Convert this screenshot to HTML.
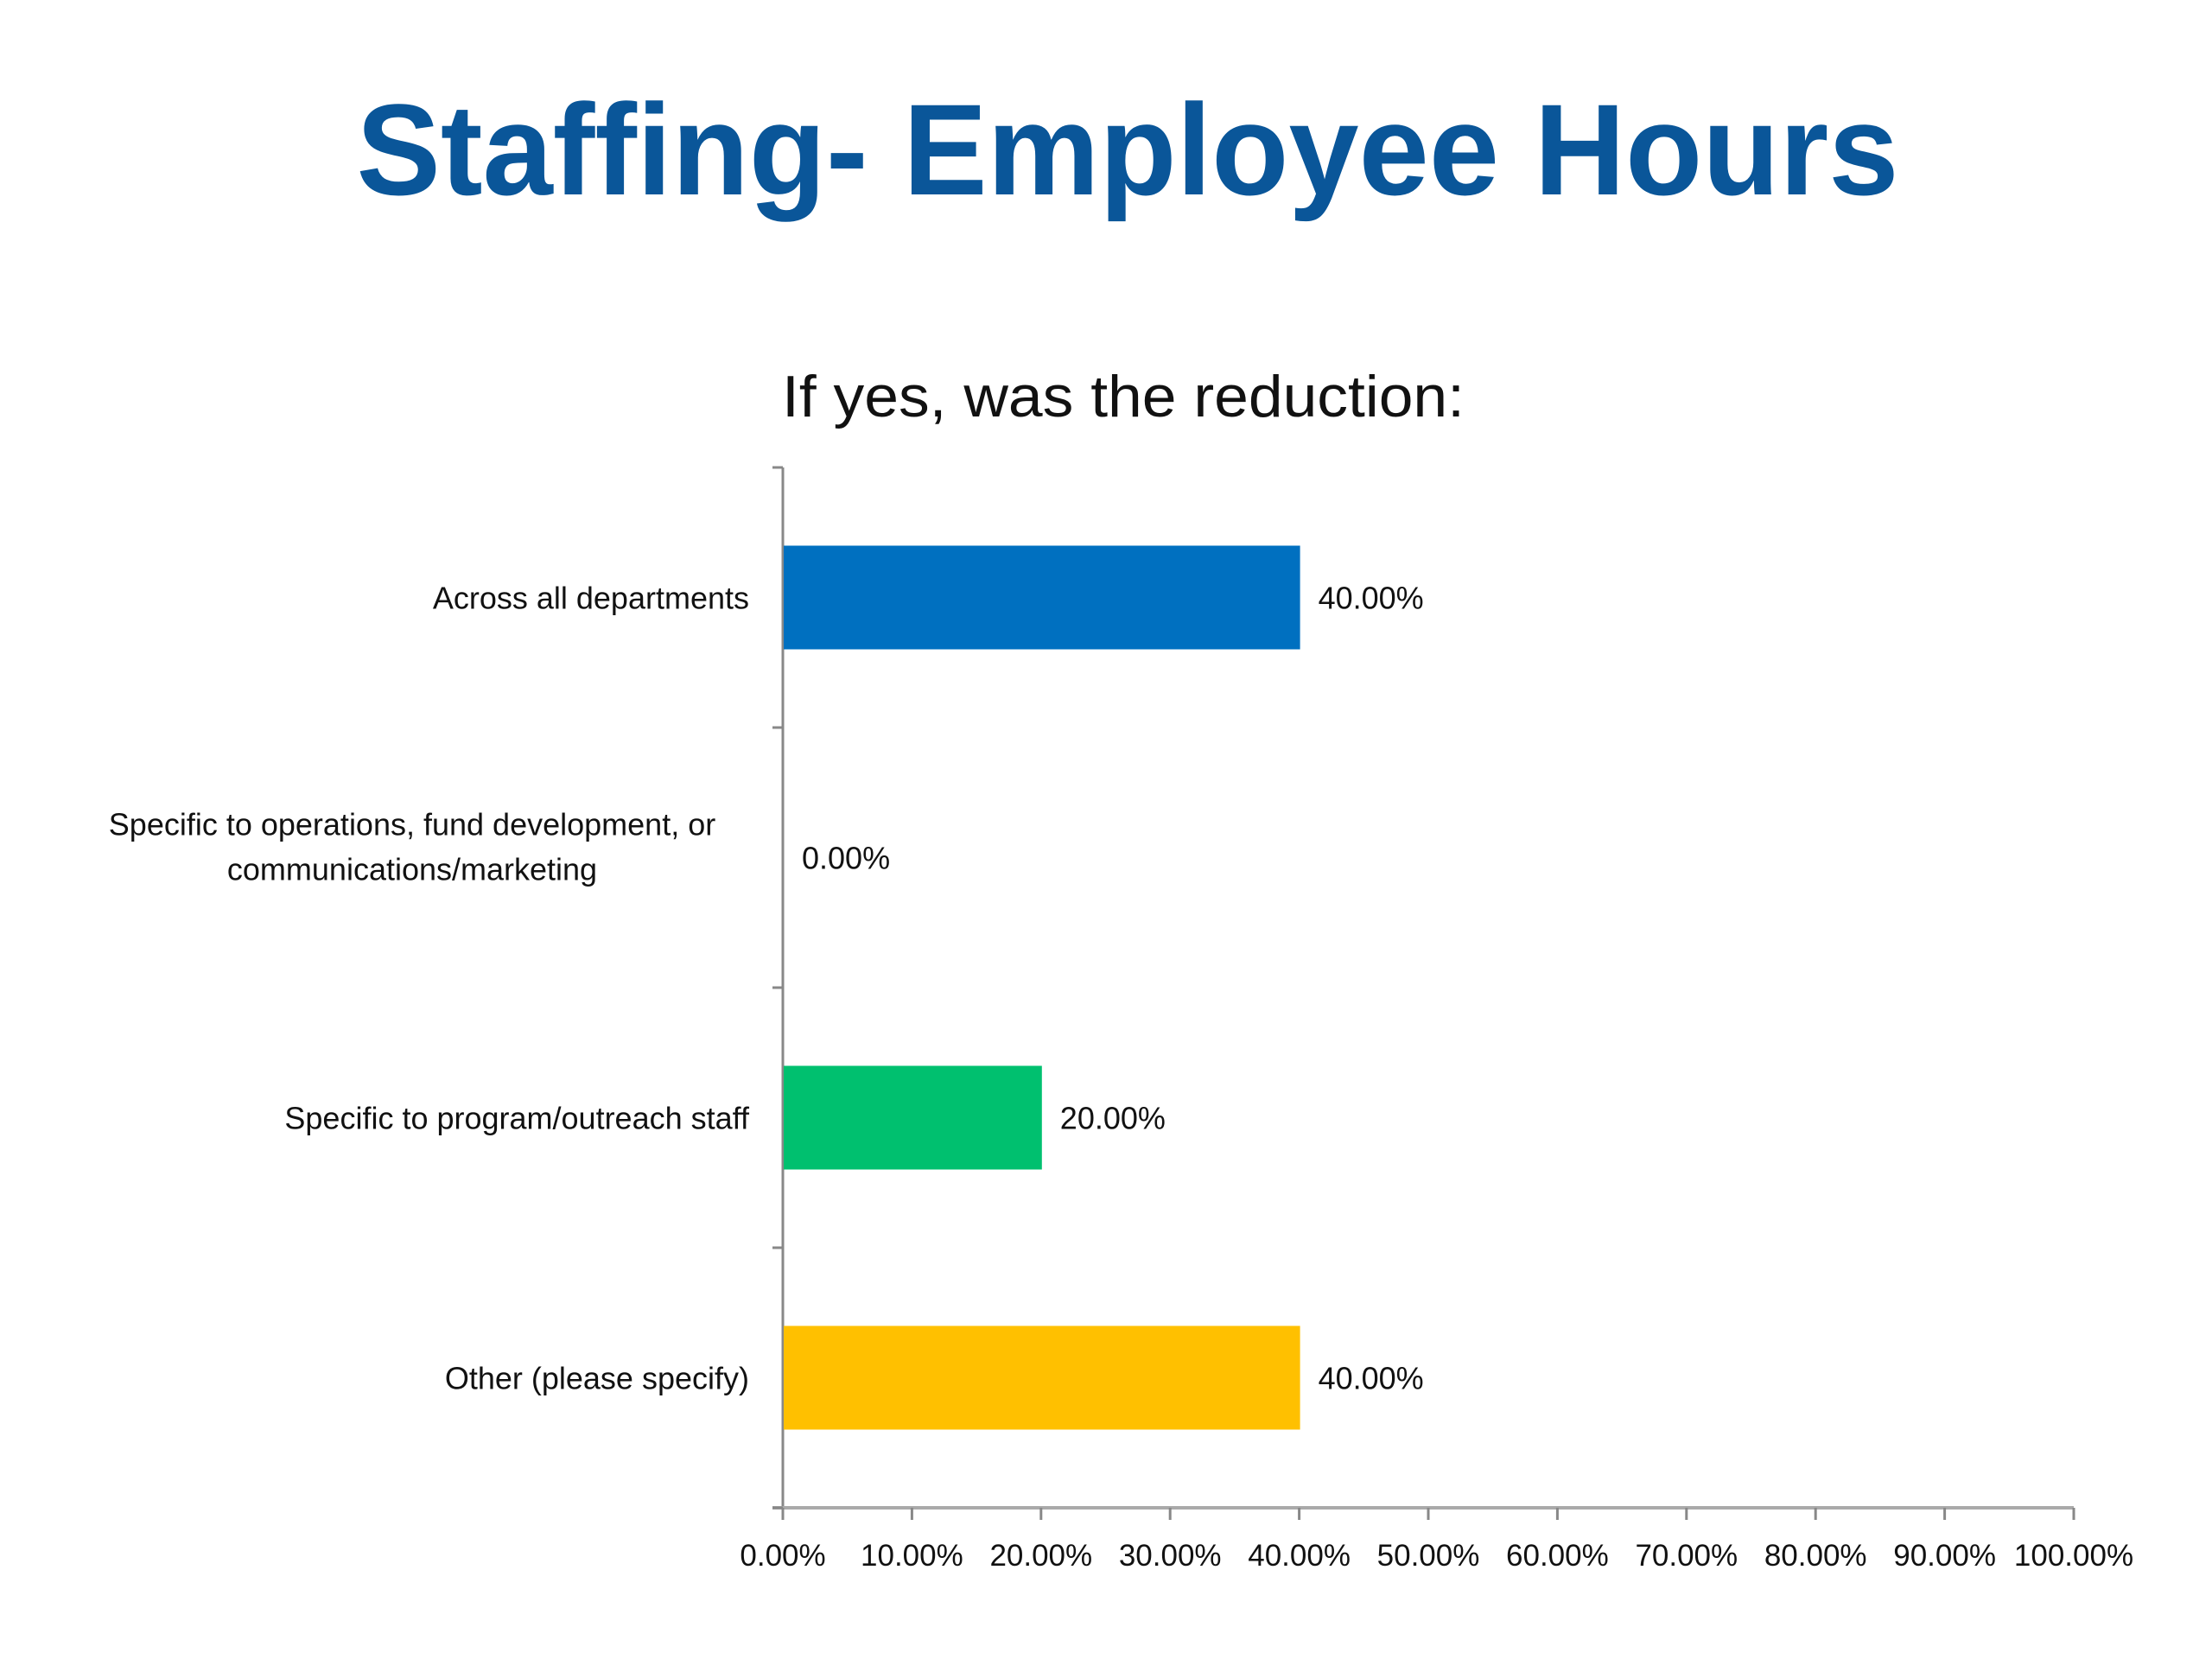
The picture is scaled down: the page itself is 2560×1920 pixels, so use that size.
<!DOCTYPE html>
<html><head><meta charset="utf-8"><style>
html,body{margin:0;padding:0;background:#fff;}
svg{display:block;font-family:"Liberation Sans",sans-serif;}
</style></head><body>
<svg id="chart" width="2560" height="1920" viewBox="0 0 2560 1920" xmlns="http://www.w3.org/2000/svg">
<text x="1305" y="225" text-anchor="middle" font-size="150" font-weight="bold" fill="#0a5699" textLength="1785" lengthAdjust="spacingAndGlyphs">Staffing- Employee Hours</text>
<text x="905" y="482" font-size="68" fill="#111" textLength="790" lengthAdjust="spacingAndGlyphs">If yes, was the reduction:</text>
<g id="plot"></g>
</svg>
<script>
const categories = [["Across all departments"], ["Specific to operations, fund development, or", "communications/marketing"], ["Specific to program/outreach staff"], ["Other (please specify)"]];
const values = [40, 0, 20, 40];
const valueLabels = ["40.00%", "0.00%", "20.00%", "40.00%"];
const colors = ["#0070c0", "#0070c0", "#00c06f", "#ffc000"];
const tickValues = [0,10,20,30,40,50,60,70,80,90,100];
const tickLabels = ["0.00%","10.00%","20.00%","30.00%","40.00%","50.00%","60.00%","70.00%","80.00%","90.00%","100.00%"];

const NS = "http://www.w3.org/2000/svg";
const g = document.getElementById('plot');
const X0 = 906, X1 = 2400, Y0 = 541, Y1 = 1745;
const xs = v => X0 + (v / 100) * (X1 - X0);
const band = (Y1 - Y0) / categories.length;
const yc = i => Y0 + band * (i + 0.5);
function mk(tag, attrs, parent) {
  const e = document.createElementNS(NS, tag);
  for (const k in attrs) e.setAttribute(k, attrs[k]);
  (parent || g).appendChild(e);
  return e;
}
// axes
let a = mk('line', {x1: X0, y1: Y0, x2: X0, y2: Y1, stroke: '#888', 'stroke-width': 3});


a = mk('line', {x1: X0 - 12, y1: Y1, x2: X1, y2: Y1, stroke: '#aaa', 'stroke-width': 4});


for (let i = 0; i <= categories.length; i++) {
  const t = mk('line', {x1: X0 - 12, y1: Y0 + band * i, x2: X0, y2: Y0 + band * i, stroke: '#888', 'stroke-width': 3});
  
  
}
tickValues.forEach((v, i) => {
  const t = mk('line', {x1: xs(v), y1: Y1, x2: xs(v), y2: Y1 + 14, stroke: '#888', 'stroke-width': 3});
  
  
  const tx = mk('text', {x: xs(v), y: 1812, 'text-anchor': 'middle', 'font-size': 35, fill: '#111'});
  tx.textContent = tickLabels[i];
  
  
});
const barH = 120;
categories.forEach((lines, i) => {
  const cy = yc(i);
  const r = mk('rect', {x: X0 + 1, y: cy - barH / 2, width: Math.max(0, xs(values[i]) - X0), height: barH, fill: colors[i]});
  
  
  const vl = mk('text', {x: xs(values[i]) + 22, y: cy + 13, 'font-size': 36, fill: '#111'});
  vl.textContent = valueLabels[i];
  
  
  if (lines.length === 1) {
    const cl = mk('text', {x: 867, y: cy + 13, 'text-anchor': 'end', 'font-size': 36, fill: '#111'});
    cl.textContent = lines[0];
    
    
  } else {
    lines.forEach((ln, j) => {
      const cl = mk('text', {x: 477, y: cy - 39 + j * 52 + 13, 'text-anchor': 'middle', 'font-size': 36, fill: '#111'});
      cl.textContent = ln;
      
      
    });
  }
});
</script>
</body></html>
